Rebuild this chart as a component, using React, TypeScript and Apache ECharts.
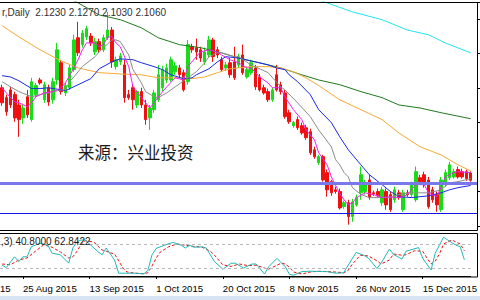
import React, { useEffect, useRef } from 'react';
import * as echarts from 'echarts';

// ---- data (Copper, Daily) ----
const barCount = 113; // 112 bars + 1 empty slot (chart shift)
const categories = Array.from({ length: barCount }, (_, i) => `b${i}`);

const dateLabelIndex = [5, 21, 37, 53, 69, 85, 101];
const dateLabels = ['25 Aug 2015', '13 Sep 2015', '1 Oct 2015', '20 Oct 2015', '8 Nov 2015', '26 Nov 2015', '15 Dec 2015'];

const openP = [2.321,2.298,2.316,2.305,2.281,2.251,2.300,2.247,2.305,2.339,
2.293,2.321,2.293,2.339,2.379,2.309,2.321,2.363,2.437,2.421,
2.439,2.441,2.404,2.428,2.409,2.437,2.455,2.370,2.381,2.374,
2.305,2.321,2.281,2.312,2.281,2.251,2.270,2.293,2.321,2.339,
2.339,2.358,2.367,2.356,2.335,2.416,2.414,2.409,2.381,2.397,
2.432,2.409,2.386,2.367,2.379,2.381,2.374,2.397,2.346,2.356,
2.367,2.346,2.321,2.312,2.293,2.351,2.328,2.309,2.263,2.233,
2.247,2.233,2.228,2.219,2.177,2.147,2.161,2.124,2.103,2.084,
2.080,2.045,2.054,2.022,2.049,2.077,2.080,2.107,2.077,2.080,
2.054,2.080,2.073,2.061,2.077,2.038,2.077,2.073,2.061,2.112,
2.119,2.107,2.084,2.073,2.038,2.096,2.112,2.114,2.131,2.126,
2.126,2.123];

const closeP = [2.286,2.265,2.281,2.251,2.247,2.274,2.258,2.335,2.326,2.332,
2.328,2.288,2.335,2.409,2.312,2.326,2.367,2.432,2.402,2.448,
2.458,2.425,2.428,2.409,2.437,2.455,2.381,2.386,2.395,2.298,
2.298,2.293,2.312,2.281,2.247,2.274,2.309,2.351,2.363,2.367,
2.386,2.372,2.351,2.316,2.421,2.409,2.404,2.390,2.404,2.432,
2.393,2.397,2.363,2.374,2.351,2.344,2.393,2.356,2.363,2.379,
2.323,2.316,2.309,2.293,2.316,2.316,2.312,2.254,2.242,2.240,
2.228,2.216,2.205,2.170,2.161,2.161,2.107,2.084,2.077,2.080,
2.042,2.054,2.022,2.056,2.066,2.119,2.096,2.066,2.075,2.070,
2.084,2.049,2.038,2.084,2.066,2.077,2.073,2.096,2.126,2.103,
2.096,2.045,2.061,2.049,2.107,2.124,2.142,2.126,2.114,2.114,
2.110,2.106];

const lowP = [2.279,2.256,2.274,2.242,2.207,2.237,2.251,2.242,2.298,2.328,
2.286,2.279,2.284,2.328,2.305,2.302,2.316,2.358,2.395,2.414,
2.432,2.418,2.397,2.402,2.404,2.432,2.367,2.363,2.374,2.286,
2.293,2.270,2.274,2.274,2.235,2.223,2.263,2.288,2.312,2.332,
2.335,2.351,2.344,2.312,2.328,2.402,2.386,2.381,2.374,2.390,
2.381,2.390,2.358,2.360,2.344,2.339,2.367,2.351,2.342,2.351,
2.316,2.312,2.305,2.288,2.288,2.312,2.305,2.249,2.237,2.228,
2.223,2.212,2.200,2.165,2.156,2.142,2.103,2.068,2.070,2.075,
2.038,2.040,2.003,2.010,2.045,2.061,2.073,2.061,2.070,2.066,
2.047,2.038,2.033,2.054,2.061,2.033,2.068,2.066,2.056,2.096,
2.089,2.040,2.054,2.033,2.033,2.091,2.107,2.110,2.110,2.110,
2.105,2.103];

const highP = [2.328,2.305,2.323,2.312,2.293,2.284,2.316,2.344,2.332,2.344,
2.335,2.328,2.344,2.425,2.386,2.332,2.374,2.444,2.474,2.455,
2.465,2.448,2.437,2.435,2.444,2.497,2.462,2.393,2.402,2.386,
2.316,2.328,2.316,2.321,2.293,2.281,2.316,2.374,2.372,2.377,
2.393,2.381,2.374,2.363,2.432,2.423,2.435,2.416,2.414,2.441,
2.437,2.416,2.393,2.381,2.390,2.416,2.400,2.421,2.370,2.386,
2.374,2.353,2.328,2.319,2.321,2.374,2.335,2.316,2.270,2.244,
2.254,2.240,2.235,2.226,2.184,2.165,2.165,2.131,2.107,2.091,
2.087,2.059,2.061,2.063,2.073,2.138,2.107,2.119,2.082,2.087,
2.091,2.087,2.080,2.091,2.084,2.084,2.084,2.103,2.138,2.119,
2.126,2.114,2.091,2.080,2.114,2.131,2.149,2.133,2.138,2.133,
2.131,2.127];

// moving averages: [bar index, price]
const maMagenta = [[0,2.321],[1,2.309],[3,2.288],[4,2.286],[6,2.277],[7,2.286],[8,2.300],[10,2.309],[12,2.312],[13,2.316],[14,2.321],[15,2.332],[17,2.367],[18,2.386],[19,2.409],[20,2.425],[22,2.425],[23,2.416],[24,2.421],[25,2.439],[26,2.439],[27,2.425],[28,2.416],[30,2.370],[31,2.323],[33,2.298],[35,2.274],[36,2.286],[37,2.300],[39,2.323],[41,2.344],[43,2.339],[44,2.370],[46,2.393],[47,2.404],[49,2.409],[51,2.404],[52,2.397],[54,2.386],[56,2.379],[58,2.367],[59,2.367],[61,2.346],[63,2.332],[64,2.321],[66,2.321],[67,2.300],[69,2.270],[71,2.247],[72,2.223],[74,2.200],[75,2.170],[77,2.142],[78,2.114],[80,2.075],[81,2.061],[82,2.049],[83,2.054],[84,2.066],[86,2.077],[87,2.075],[89,2.070],[90,2.066],[92,2.068],[93,2.066],[95,2.068],[96,2.073],[97,2.084],[98,2.096],[100,2.096],[101,2.077],[103,2.068],[104,2.091],[105,2.114],[107,2.124],[108,2.126],[111,2.124]];
const maGrey = [[0,2.335],[2,2.323],[4,2.312],[7,2.300],[9,2.305],[11,2.309],[14,2.316],[15,2.316],[16,2.335],[17,2.346],[18,2.358],[19,2.370],[22,2.393],[23,2.404],[26,2.432],[27,2.432],[28,2.428],[30,2.397],[31,2.363],[33,2.332],[34,2.312],[36,2.300],[37,2.298],[39,2.309],[41,2.323],[44,2.344],[46,2.358],[48,2.379],[49,2.393],[51,2.402],[52,2.402],[55,2.393],[56,2.393],[59,2.374],[63,2.356],[66,2.323],[67,2.316],[70,2.286],[73,2.254],[75,2.223],[78,2.184],[79,2.154],[80,2.142],[81,2.124],[82,2.114],[83,2.089],[85,2.073],[87,2.066],[90,2.066],[92,2.066],[94,2.073],[97,2.077],[99,2.077],[101,2.077],[104,2.084],[106,2.100],[108,2.103],[111,2.110]];
const maBlue = [[0,2.349],[2,2.346],[4,2.337],[7,2.319],[9,2.319],[11,2.321],[14,2.316],[15,2.314],[18,2.328],[21,2.342],[23,2.365],[26,2.381],[28,2.388],[31,2.386],[33,2.379],[36,2.370],[38,2.363],[40,2.351],[43,2.342],[45,2.344],[46,2.351],[49,2.365],[51,2.381],[53,2.393],[56,2.390],[59,2.383],[63,2.374],[65,2.367],[67,2.363],[68,2.351],[70,2.335],[73,2.305],[75,2.270],[78,2.240],[80,2.207],[82,2.177],[85,2.142],[87,2.119],[90,2.096],[92,2.080],[94,2.068],[97,2.066],[99,2.068],[101,2.070],[104,2.077],[106,2.084],[108,2.089],[111,2.094]];
const maOrange = [[0,2.465],[4,2.439],[9,2.409],[14,2.383],[18,2.367],[23,2.356],[28,2.353],[33,2.351],[37,2.344],[42,2.344],[45,2.342],[48,2.346],[51,2.356],[54,2.365],[59,2.370],[63,2.370],[66,2.367],[69,2.358],[72,2.344],[75,2.326],[80,2.293],[85,2.270],[90,2.247],[94,2.216],[99,2.184],[104,2.165],[108,2.142],[111,2.128]];
const maGreen = [[0,2.618],[9,2.567],[18,2.518],[23,2.490],[28,2.479],[33,2.460],[37,2.437],[42,2.421],[47,2.414],[52,2.402],[56,2.390],[61,2.379],[66,2.367],[71,2.351],[75,2.339],[80,2.328],[85,2.312],[90,2.298],[94,2.281],[99,2.274],[104,2.263],[111,2.249]];
const maCyan = [[40,2.664],[60,2.583],[71,2.539],[77,2.518],[83,2.497],[90,2.479],[96,2.455],[101,2.444],[105,2.425],[111,2.402]];

const hLevels = [2.102, 2.029];

// Stochastic (5,3,3): [bar index, value]
const stochMain = [[0,27],[1,21],[3,48],[4,36],[5,48],[6,48],[7,73],[8,77],[9,82],[11,77],[12,57],[14,53],[16,32],[17,70],[18,86],[19,90],[20,90],[21,80],[23,61],[24,53],[25,70],[27,40],[28,7],[30,7],[32,7],[34,5],[35,14],[36,53],[37,69],[39,77],[41,84],[43,77],[44,70],[45,77],[46,72],[48,73],[49,70],[51,36],[53,17],[55,32],[56,32],[58,20],[60,30],[61,30],[63,5],[64,23],[66,44],[68,23],[69,4],[70,2],[72,11],[74,12],[77,11],[78,11],[80,7],[82,8],[83,25],[85,59],[87,51],[88,44],[90,19],[91,32],[93,67],[94,54],[96,42],[97,62],[100,71],[101,44],[103,15],[104,57],[106,97],[107,90],[109,77],[110,73],[111,40.8]];
const stochSignal = [[0,30],[2,28],[4,40],[6,45],[8,62],[10,78],[12,72],[14,60],[16,45],[17,48],[18,62],[19,80],[20,88],[22,85],[24,65],[25,62],[26,58],[27,55],[28,38],[29,20],[30,10],[32,7],[34,6],[35,8],[36,25],[37,45],[38,60],[40,73],[42,80],[44,77],[46,74],[48,72],[50,62],[51,52],[52,40],[53,28],[55,24],[57,30],[59,26],[61,27],[63,20],[64,17],[65,22],[67,32],[68,30],[69,22],[70,10],[72,5],[74,10],[76,12],[80,10],[82,8],[83,13],[84,28],[86,52],[88,50],[90,38],[91,30],[93,40],[94,55],[96,52],[97,53],[99,63],[101,62],[102,45],[103,30],[104,37],[105,55],[106,80],[108,90],[110,80],[111,62.84]];
const stochLevels = [80, 20];

const titleText = 'r,Daily  2.1230 2.1270 2.1030 2.1060';
const stochTitle = ',3) 40.8000 62.8422';
const leftDateFragment = '15';
const sourceText = '来源：兴业投资';

const FONT = 'Liberation Sans, Arial, sans-serif';

function buildOption() {
  const candles = openP.map((o, i) => [o, closeP[i], lowP[i], highP[i]]);
  const isDateTick = (index: number) => dateLabelIndex.includes(index);
  const ma = (data: number[][], color: string, z = 3) => ({
    type: 'line', xAxisIndex: 0, yAxisIndex: 0, data, showSymbol: false, symbol: 'none',
    lineStyle: { color, width: 1 }, clip: true, silent: true, z,
  });
  return {
    animation: false,
    backgroundColor: '#ffffff',
    grid: [
      { left: -1, top: 2, width: 478, height: 224, show: false },
      { left: -1, top: 233, width: 478, height: 44, show: false },
    ],
    xAxis: [
      { type: 'category', gridIndex: 0, data: categories, boundaryGap: true,
        axisLine: { show: false }, axisTick: { show: false }, axisLabel: { show: false }, splitLine: { show: false } },
      { type: 'category', gridIndex: 1, data: categories, boundaryGap: true,
        axisLine: { show: true, lineStyle: { color: '#000', width: 1 } },
        axisTick: { show: true, alignWithLabel: true, interval: isDateTick, length: 3, lineStyle: { color: '#000' } },
        axisLabel: { show: true, interval: isDateTick, align: 'left', margin: 6, fontSize: 9.6, fontFamily: FONT, color: '#000',
          formatter: (_v: string, idx: number) => { const k = dateLabelIndex.indexOf(idx); return k >= 0 ? dateLabels[k] : ''; } },
        splitLine: { show: false } },
    ],
    yAxis: [
      { type: 'value', gridIndex: 0, min: 2.0, max: 2.52, interval: 0.08, position: 'right',
        axisLine: { show: false }, axisTick: { show: true, length: 4, lineStyle: { color: '#000' } },
        axisLabel: { show: false }, splitLine: { show: false } },
      { type: 'value', gridIndex: 1, min: -2.5, max: 107.5, position: 'right',
        axisLine: { show: false }, axisTick: { show: false }, axisLabel: { show: false }, splitLine: { show: false } },
    ],
    series: [
      { type: 'candlestick', xAxisIndex: 0, yAxisIndex: 0, data: candles, barWidth: 3, silent: true, z: 2,
        itemStyle: { color: '#18dc18', color0: '#f01010', borderColor: '#18dc18', borderColor0: '#f01010', borderWidth: 1 },
        markLine: { silent: true, symbol: ['none', 'none'], label: { show: false }, z: 5,
          data: [
            { yAxis: hLevels[0], lineStyle: { color: '#7878ea', width: 3, type: 'solid' } },
            { yAxis: hLevels[1], lineStyle: { color: '#1414e0', width: 1, type: 'solid' } },
          ] } },
      ma(maCyan, '#22e4f0'),
      ma(maGreen, '#1f7a1f'),
      ma(maOrange, '#f5aa35'),
      ma(maBlue, '#1a2ae6'),
      ma(maGrey, '#8c8c8c'),
      ma(maMagenta, '#f020f0'),
      { type: 'line', xAxisIndex: 1, yAxisIndex: 1, data: stochSignal, showSymbol: false, symbol: 'none', silent: true,
        lineStyle: { color: '#f01010', width: 1, type: [3, 2] },
        markLine: { silent: true, symbol: ['none', 'none'], label: { show: false },
          lineStyle: { color: '#b8b8b8', width: 1, type: [3, 3] },
          data: stochLevels.map((v) => ({ yAxis: v })) } },
      { type: 'line', xAxisIndex: 1, yAxisIndex: 1, data: stochMain, showSymbol: false, symbol: 'none', silent: true,
        lineStyle: { color: '#20b8b8', width: 1 } },
    ],
    graphic: [
      { type: 'rect', silent: true, z: 20, shape: { x: -1.5, y: 2.5, width: 479, height: 228 },
        style: { fill: 'none', stroke: '#000', lineWidth: 1 } },
      { type: 'rect', silent: true, z: 20, shape: { x: -1.5, y: 233.5, width: 479, height: 43.5 },
        style: { fill: 'none', stroke: '#000', lineWidth: 1 } },
      { type: 'rect', silent: true, z: 20, shape: { x: 0, y: 296, width: 480, height: 4 },
        style: { fill: '#d7e4f4' } },
      { type: 'text', silent: true, z: 30, x: 2, y: 12,
        style: { text: titleText, fontSize: 10, fontFamily: FONT, fill: '#303038', align: 'left', verticalAlign: 'middle' } },
      { type: 'text', silent: true, z: 30, x: 1, y: 241.5,
        style: { text: stochTitle, fontSize: 10, fontFamily: FONT, fill: '#202020', align: 'left', verticalAlign: 'middle' } },
      { type: 'text', silent: true, z: 30, x: 0, y: 288,
        style: { text: leftDateFragment, fontSize: 9.6, fontFamily: FONT, fill: '#000', align: 'left', verticalAlign: 'middle' } },
      { type: 'text', silent: true, z: 30, x: 78, y: 152,
        style: { text: sourceText, fontSize: 16.5, fontFamily: 'Noto Sans CJK SC, sans-serif', fill: '#1a1a1a', align: 'left', verticalAlign: 'middle' } },
    ],
  };
}

export default function App() {
  const ref = useRef<HTMLDivElement>(null);
  useEffect(() => {
    if (!ref.current) return;
    const chart = echarts.init(ref.current, null, { renderer: 'svg' });
    chart.setOption(buildOption() as any);
    return () => chart.dispose();
  }, []);
  return (
    <div
      ref={ref}
      style={{ position: 'fixed', left: 0, top: 0, width: 480, height: 300, background: '#fff' }}
    />
  );
}
